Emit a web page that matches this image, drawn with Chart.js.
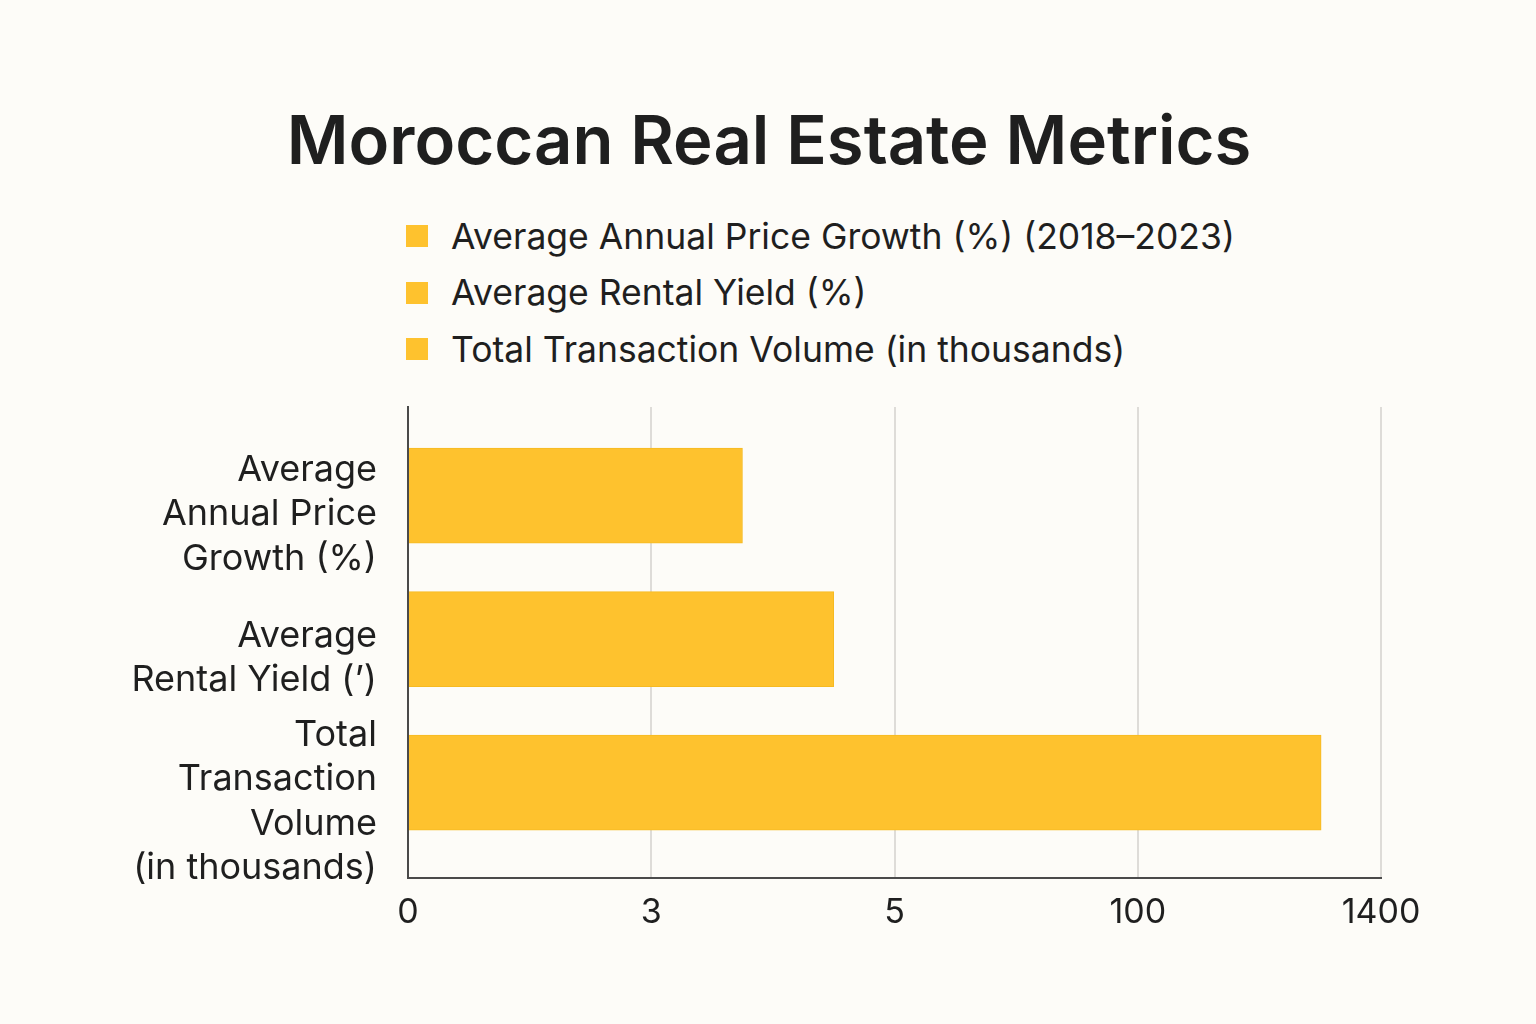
<!DOCTYPE html>
<html>
<head>
<meta charset="utf-8">
<script src="https://cdn.jsdelivr.net/npm/chart.js@4/dist/chart.umd.min.js"></script>
<style>
  html, body { margin: 0; padding: 0; background: #FDFCF8; }
  body { width: 1536px; height: 1024px; position: relative; overflow: hidden; font-family: Inter, "Noto Sans", sans-serif; color: #1f1f1f; }
  #title { position: absolute; left: 0; width: 1538px; top: 96px; text-align: center; font-size: 67px; font-weight: 600; line-height: 88px; }
  #legend { position: absolute; left: 406px; top: 208px; }
  .li { display: flex; align-items: center; height: 56.5px; font-size: 35.5px; }
  .box { width: 22px; height: 22px; margin-right: 23px; }
  canvas { position: absolute; left: 0; top: 0; }
</style>
</head>
<body>
<div id="title">Moroccan Real Estate Metrics</div>
<div id="legend"></div>
<canvas id="c" width="1536" height="1024"></canvas>
<script>
// ---- data ----
const categories = [
  ["Average", "Annual Price", "Growth (%)"],
  ["Average", "Rental Yield (’)"],
  ["Total", "Transaction", "Volume", "(in thousands)"]
];
const legendLabels = [
  "Average Annual Price Growth (%) (2018–2023)",
  "Average Rental Yield (%)",
  "Total Transaction Volume (in thousands)"
];
const values = [3.75, 4.5, 1080];
const tickValues = [0, 3, 5, 100, 1400];
const barColor = "#FEC22E";

// piecewise axis: each tick interval gets equal width (as in the reference)
function toPos(v) {
  for (let i = 0; i < tickValues.length - 1; i++) {
    if (v <= tickValues[i + 1]) return i + (v - tickValues[i]) / (tickValues[i + 1] - tickValues[i]);
  }
  return tickValues.length - 1;
}
function fromPos(p) {
  const i = Math.max(0, Math.min(tickValues.length - 2, Math.floor(p)));
  return tickValues[i] + (p - i) * (tickValues[i + 1] - tickValues[i]);
}
class PiecewiseScale extends Chart.LinearScale {
  determineDataLimits() { this.min = tickValues[0]; this.max = tickValues[tickValues.length - 1]; }
  buildTicks() { return tickValues.map(v => ({ value: v })); }
  getPixelForValue(v) { return this.getPixelForDecimal(toPos(v) / (tickValues.length - 1)); }
  getValueForPixel(px) { return fromPos(this.getDecimalForPixel(px) * (tickValues.length - 1)); }
}
PiecewiseScale.id = 'piecewise';
PiecewiseScale.defaults = Chart.LinearScale.defaults;
Chart.register(PiecewiseScale);

const lg = document.getElementById('legend');
legendLabels.forEach(t => {
  const d = document.createElement('div'); d.className = 'li';
  const b = document.createElement('span'); b.className = 'box'; b.style.background = barColor;
  const s = document.createElement('span'); s.textContent = t;
  d.appendChild(b); d.appendChild(s); lg.appendChild(d);
});

new Chart(document.getElementById('c'), {
  type: 'bar',
  data: {
    datasets: [{
      data: values.map((v, i) => ({ x: v, y: i })),
      backgroundColor: barColor,
      borderColor: '#F6BA22',
      borderWidth: 1,
      barThickness: 95
    }]
  },
  options: {
    indexAxis: 'y',
    responsive: false,
    animation: false,
    devicePixelRatio: 1,
    layout: { padding: { top: 407, right: 155, bottom: 0, left: 0 } },
    plugins: { legend: { display: false }, tooltip: { enabled: false }, title: { display: false } },
    scales: {
      x: {
        type: 'piecewise',
        grid: { color: '#DEDCD8', lineWidth: 2, drawTicks: false },
        border: { display: true, color: '#4a4a4a', width: 2 },
        ticks: {
          color: '#1f1f1f', font: { family: 'Inter', size: 34 }, padding: 14,
          callback: v => String(v)
        },
        afterFit: s => { s.height = 146; }
      },
      y: {
        type: 'linear',
        reverse: true,
        offset: false,
        min: -0.617,
        max: 2.665,
        grid: { display: false, drawTicks: false, offset: false },
        border: { display: true, color: '#4a4a4a', width: 2 },
        afterBuildTicks: s => { s.ticks = categories.map((_, i) => ({ value: i })); },
        ticks: {
          autoSkip: false,
          color: '#1f1f1f', font: { family: 'Inter', size: 36, lineHeight: 1.23 }, padding: 31,
          labelOffset: 19,
          callback: v => categories[v]
        },
        afterFit: s => { s.width = 408; }
      }
    }
  }
});
</script>
</body>
</html>
